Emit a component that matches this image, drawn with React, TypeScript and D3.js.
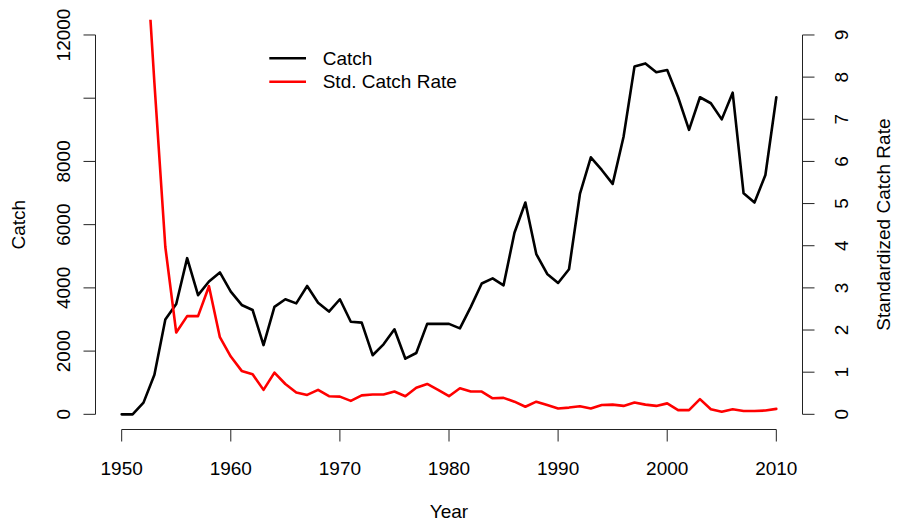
import React from "react";
import * as d3 from "d3";

const years = [
  1950, 1951, 1952, 1953, 1954, 1955, 1956, 1957, 1958, 1959,
  1960, 1961, 1962, 1963, 1964, 1965, 1966, 1967, 1968, 1969,
  1970, 1971, 1972, 1973, 1974, 1975, 1976, 1977, 1978, 1979,
  1980, 1981, 1982, 1983, 1984, 1985, 1986, 1987, 1988, 1989,
  1990, 1991, 1992, 1993, 1994, 1995, 1996, 1997, 1998, 1999,
  2000, 2001, 2002, 2003, 2004, 2005, 2006, 2007, 2008, 2009, 2010,
];

const catchValues = [
  0, 0, 370, 1250, 3000, 3490, 4940, 3770, 4200, 4490,
  3880, 3460, 3300, 2190, 3400, 3640, 3510, 4060, 3530, 3250,
  3640, 2930, 2900, 1870, 2215, 2690, 1760, 1940, 2860, 2860,
  2860, 2720, 3400, 4140, 4300, 4080, 5745, 6700, 5070, 4440,
  4155, 4590, 6970, 8130, 7730, 7290, 8780, 11000, 11100, 10820,
  10890, 10030, 9000, 10030, 9840, 9330, 10175, 6990, 6700, 7570, 10030,
];

const rateValues: (number | null)[] = [
  null, null, 12.0, 7.86, 3.97, 1.94, 2.33, 2.33, 3.04, 1.83,
  1.37, 1.03, 0.95, 0.58, 0.99, 0.72, 0.52, 0.46, 0.58, 0.43,
  0.42, 0.32, 0.45, 0.47, 0.47, 0.54, 0.43, 0.63, 0.72, 0.58,
  0.43, 0.62, 0.54, 0.54, 0.38, 0.39, 0.30, 0.18, 0.30, 0.22,
  0.14, 0.16, 0.19, 0.14, 0.22, 0.23, 0.20, 0.28, 0.23, 0.20,
  0.26, 0.10, 0.10, 0.36, 0.12, 0.06, 0.12, 0.08, 0.08, 0.09, 0.13,
];

const xTicks = [1950, 1960, 1970, 1980, 1990, 2000, 2010];
const leftTicks = [0, 2000, 4000, 6000, 8000, 10000, 12000];
const leftTickLabels = ["0", "2000", "4000", "6000", "8000", "", "12000"];
const rightTicks = [0, 1, 2, 3, 4, 5, 6, 7, 8, 9];

const legendLabels = ["Catch", "Std. Catch Rate"];
const legendColors = ["#000000", "#ff0000"];

const W = 897;
const H = 523;
const plot = { left: 95.5, right: 802.5, top: 19.8, bottom: 429.5 };
const FONT = "'Liberation Sans', Arial, Helvetica, sans-serif";
const FS = 19;

export default function App() {
  const x = d3.scaleLinear().domain([1947.6, 2012.4]).range([plot.left, plot.right]);
  const yL = d3.scaleLinear().domain([-480, 12480]).range([plot.bottom, plot.top]);
  const yR = d3.scaleLinear().domain([-0.36, 9.36]).range([plot.bottom, plot.top]);

  const catchLine = d3
    .line<number>()
    .x((_, i) => x(years[i]))
    .y((d) => yL(d));
  const rateLine = d3
    .line<number | null>()
    .defined((d) => d !== null)
    .x((_, i) => x(years[i]))
    .y((d) => yR(d as number));

  const axisColor = "#222";
  const tickLen = 12;

  return (
    <svg
      width={W}
      height={H}
      style={{ position: "absolute", left: 0, top: 0, display: "block", background: "#fff" }}
      fontFamily={FONT}
    >
      <defs>
        <clipPath id="plotClip">
          <rect x={plot.left} y={plot.top} width={plot.right - plot.left} height={plot.bottom - plot.top} />
        </clipPath>
      </defs>

      <g clipPath="url(#plotClip)" fill="none" strokeLinejoin="round" strokeLinecap="round">
        <path d={catchLine(catchValues) || ""} stroke="#000" strokeWidth={2.6} />
        <path d={rateLine(rateValues) || ""} stroke="#ff0000" strokeWidth={2.6} />
      </g>

      {/* x axis */}
      <g>
        <line x1={x(xTicks[0])} x2={x(xTicks[xTicks.length - 1])} y1={plot.bottom} y2={plot.bottom} stroke={axisColor} strokeWidth={1} />
        {xTicks.map((t) => (
          <g key={t}>
            <line x1={x(t)} x2={x(t)} y1={plot.bottom} y2={plot.bottom + tickLen} stroke={axisColor} strokeWidth={1} />
            <text x={x(t)} y={475} textAnchor="middle" fontSize={FS} fill="#000">
              {t}
            </text>
          </g>
        ))}
        <text x={(plot.left + plot.right) / 2} y={518} textAnchor="middle" fontSize={FS} fill="#000">
          Year
        </text>
      </g>

      {/* left axis */}
      <g>
        <line x1={plot.left} x2={plot.left} y1={yL(leftTicks[0])} y2={yL(leftTicks[leftTicks.length - 1])} stroke={axisColor} strokeWidth={1} />
        {leftTicks.map((t, i) => (
          <g key={t}>
            <line x1={plot.left - tickLen} x2={plot.left} y1={yL(t)} y2={yL(t)} stroke={axisColor} strokeWidth={1} />
            {leftTickLabels[i] && (
              <text
                transform={`translate(70,${yL(t)}) rotate(-90)`}
                textAnchor="middle"
                fontSize={FS}
                fill="#000"
              >
                {leftTickLabels[i]}
              </text>
            )}
          </g>
        ))}
        <text
          transform={`translate(25,${(plot.top + plot.bottom) / 2}) rotate(-90)`}
          textAnchor="middle"
          fontSize={FS}
          fill="#000"
        >
          Catch
        </text>
      </g>

      {/* right axis */}
      <g>
        <line x1={plot.right} x2={plot.right} y1={yR(rightTicks[0])} y2={yR(rightTicks[rightTicks.length - 1])} stroke={axisColor} strokeWidth={1} />
        {rightTicks.map((t) => (
          <g key={t}>
            <line x1={plot.right} x2={plot.right + tickLen} y1={yR(t)} y2={yR(t)} stroke={axisColor} strokeWidth={1} />
            <text
              transform={`translate(848,${yR(t)}) rotate(-90)`}
              textAnchor="middle"
              fontSize={FS}
              fill="#000"
            >
              {t}
            </text>
          </g>
        ))}
        <text
          transform={`translate(889.5,${(plot.top + plot.bottom) / 2}) rotate(-90)`}
          textAnchor="middle"
          fontSize={FS}
          fill="#000"
        >
          Standardized Catch Rate
        </text>
      </g>

      {/* legend */}
      <g>
        {legendLabels.map((lab, i) => (
          <g key={lab} transform={`translate(0,${58.3 + i * 23.4})`}>
            <line x1={269.3} x2={306} y1={0} y2={0} stroke={legendColors[i]} strokeWidth={2.6} />
            <text x={322.7} y={0} dy="0.35em" fontSize={FS} fill="#000">
              {lab}
            </text>
          </g>
        ))}
      </g>
    </svg>
  );
}
